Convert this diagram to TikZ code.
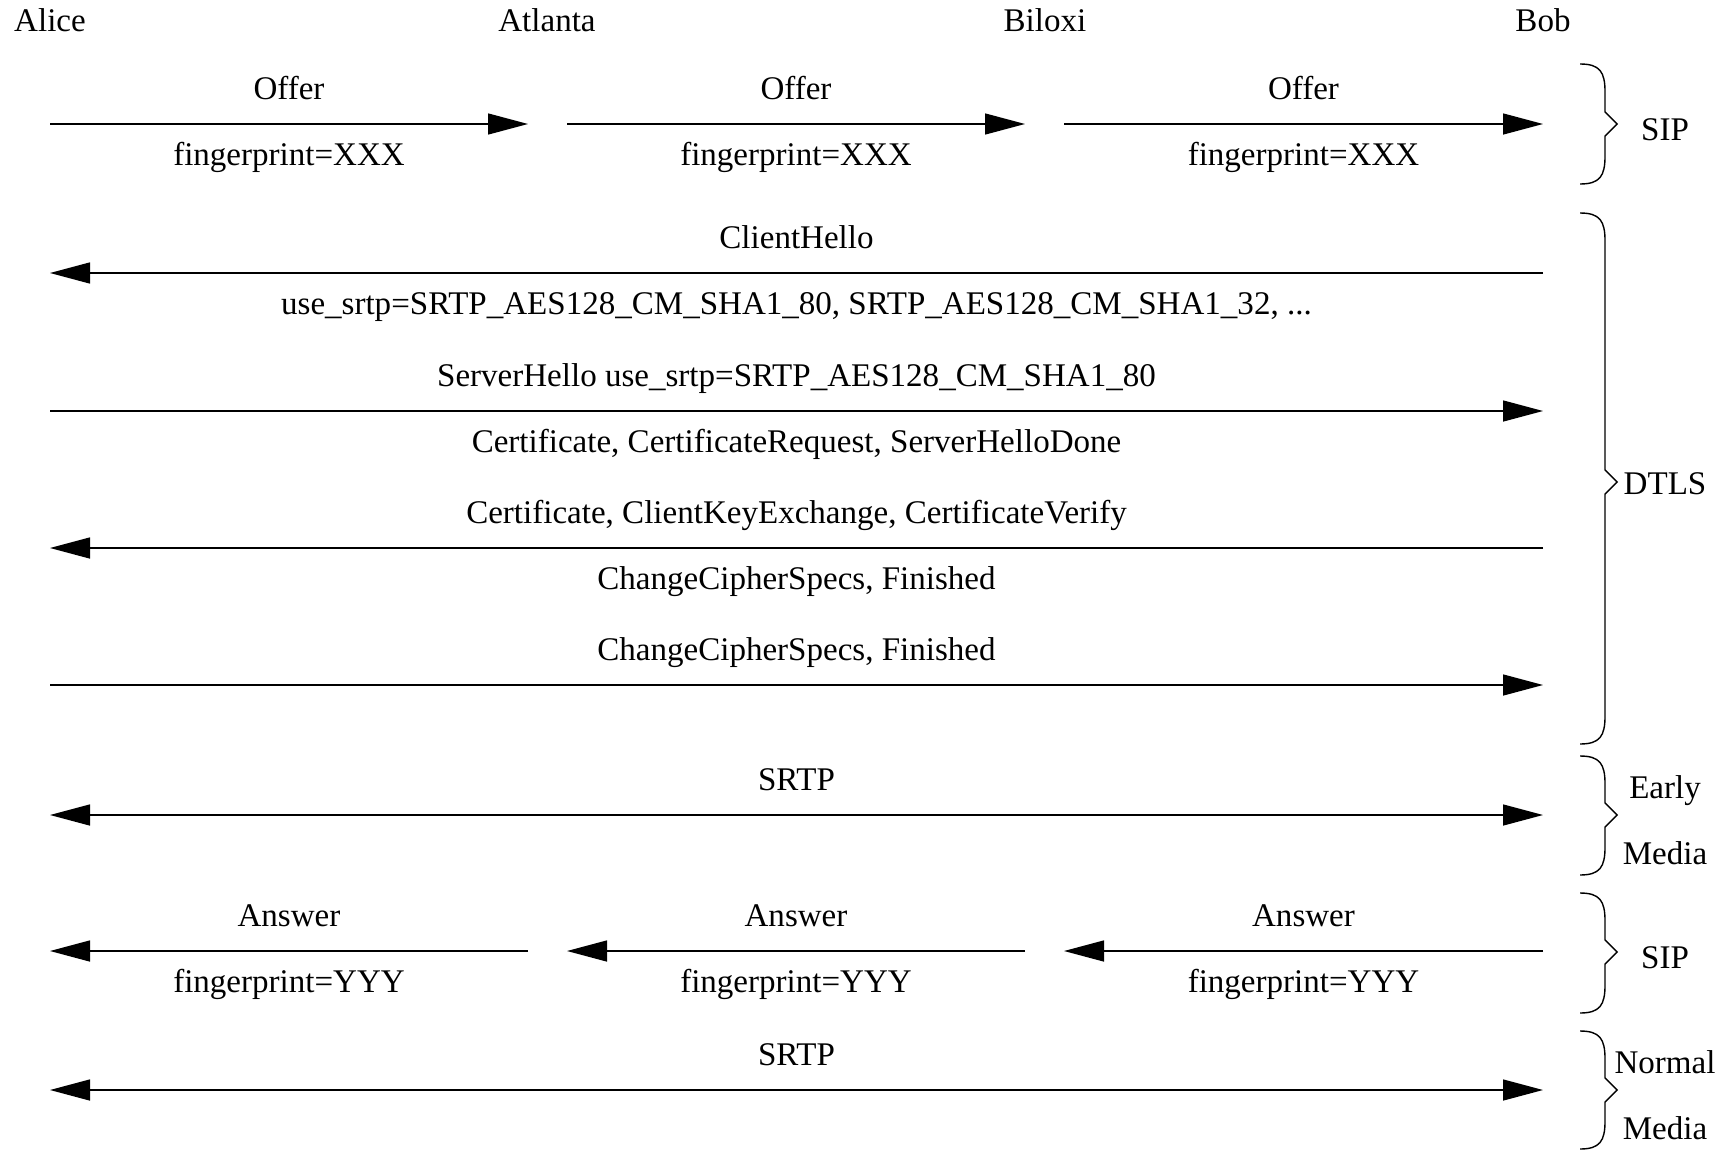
\documentclass[tikz,border=0pt]{standalone}
\usepackage{fontspec}
\setmainfont{Liberation Serif}
\usetikzlibrary{arrows.meta}
\tikzset{>={Triangle[length=8mm,width=4.2mm]}}
\tikzstyle{msg} = [line width=0.8pt]
\tikzstyle{party} = [anchor=base, inner sep=0pt]
\tikzstyle{lab above} = [midway, anchor=base, yshift=5mm, inner sep=0pt]
\tikzstyle{lab below} = [midway, anchor=base, yshift=-8.2mm, inner sep=0pt]
\tikzstyle{phase} = [anchor=base, inner sep=0pt]
\tikzstyle{curly} = [line width=0.8pt]

\begin{document}
\begin{tikzpicture}[x=0.2mm, y=-0.2mm, font=\fontsize{18.8}{22}\selectfont]
    \useasboundingbox (0,0) rectangle (1733,1149);
    %participants
    \node[party] (alice) at (50,32) {Alice};
    \node[party] (atlanta) at (547,32) {Atlanta};
    \node[party] (biloxi) at (1045,32) {Biloxi};
    \node[party] (bob) at (1543,32) {Bob};
    %row ends
    \foreach \r/\y in {1/124, 2/273, 3/411, 4/548, 5/685, 6/815, 7/951, 8/1090} {
        \coordinate (al\r) at (alice |- 0,\y);
        \coordinate (bo\r) at (bob |- 0,\y);
        \path (atlanta |- 0,\y) ++(-19,0) coordinate (atw\r) ++(39,0) coordinate (ate\r);
        \path (biloxi |- 0,\y) ++(-20,0) coordinate (biw\r) ++(39,0) coordinate (bie\r);
    }
    %offer
    \draw[msg,->] (al1) -- (atw1) node[lab above] (offer1) {Offer}
        node[lab below] (fpx1) {fingerprint=XXX};
    \draw[msg,->] (ate1) -- (biw1) node[lab above] (offer2) {Offer}
        node[lab below] (fpx2) {fingerprint=XXX};
    \draw[msg,->] (bie1) -- (bo1) node[lab above] (offer3) {Offer}
        node[lab below] (fpx3) {fingerprint=XXX};
    %dtls
    \draw[msg,->] (bo2) -- (al2) node[lab above] (chello) {ClientHello}
        node[lab below] (chsrtp) {use\_srtp=SRTP\_AES128\_CM\_SHA1\_80, SRTP\_AES128\_CM\_SHA1\_32, ...};
    \draw[msg,->] (al3) -- (bo3) node[lab above] (shello) {ServerHello use\_srtp=SRTP\_AES128\_CM\_SHA1\_80}
        node[lab below] (scert) {Certificate, CertificateRequest, ServerHelloDone};
    \draw[msg,->] (bo4) -- (al4) node[lab above] (ccert) {Certificate, ClientKeyExchange, CertificateVerify}
        node[lab below] (cfin) {ChangeCipherSpecs, Finished};
    \draw[msg,->] (al5) -- (bo5) node[lab above] (sfin) {ChangeCipherSpecs, Finished};
    %early media
    \draw[msg,<->] (al6) -- (bo6) node[lab above] (srtp1) {SRTP};
    %answer
    \draw[msg,->] (bo7) -- (bie7) node[lab above] (answer3) {Answer}
        node[lab below] (fpy3) {fingerprint=YYY};
    \draw[msg,->] (biw7) -- (ate7) node[lab above] (answer2) {Answer}
        node[lab below] (fpy2) {fingerprint=YYY};
    \draw[msg,->] (atw7) -- (al7) node[lab above] (answer1) {Answer}
        node[lab below] (fpy1) {fingerprint=YYY};
    %normal media
    \draw[msg,<->] (al8) -- (bo8) node[lab above] (srtp2) {SRTP};
    %braces
    \foreach \t/\m/\b in {64/124/184, 213/482/744, 756/815/875, 893/952/1013, 1031/1090/1149}
        \draw[curly] (1580,\t) .. controls (1600,\t) and (1605,\t+8) .. (1605,\t+28)
            -- (1605,\m-12) -- (1617,\m) -- (1605,\m+12) -- (1605,\b-28)
            .. controls (1605,\b-8) and (1600,\b) .. (1580,\b);
    %phase labels
    \node[phase] (sip1) at (1665,140) {SIP};
    \node[phase] (dtls) at (1665,494) {DTLS};
    \node[phase] (early) at (1665,798) {Early};
    \node[phase] (emedia) at (1665,864) {Media};
    \node[phase] (sip2) at (1665,968) {SIP};
    \node[phase] (normal) at (1665,1073) {Normal};
    \node[phase] (nmedia) at (1665,1139) {Media};
\end{tikzpicture}
\end{document}
